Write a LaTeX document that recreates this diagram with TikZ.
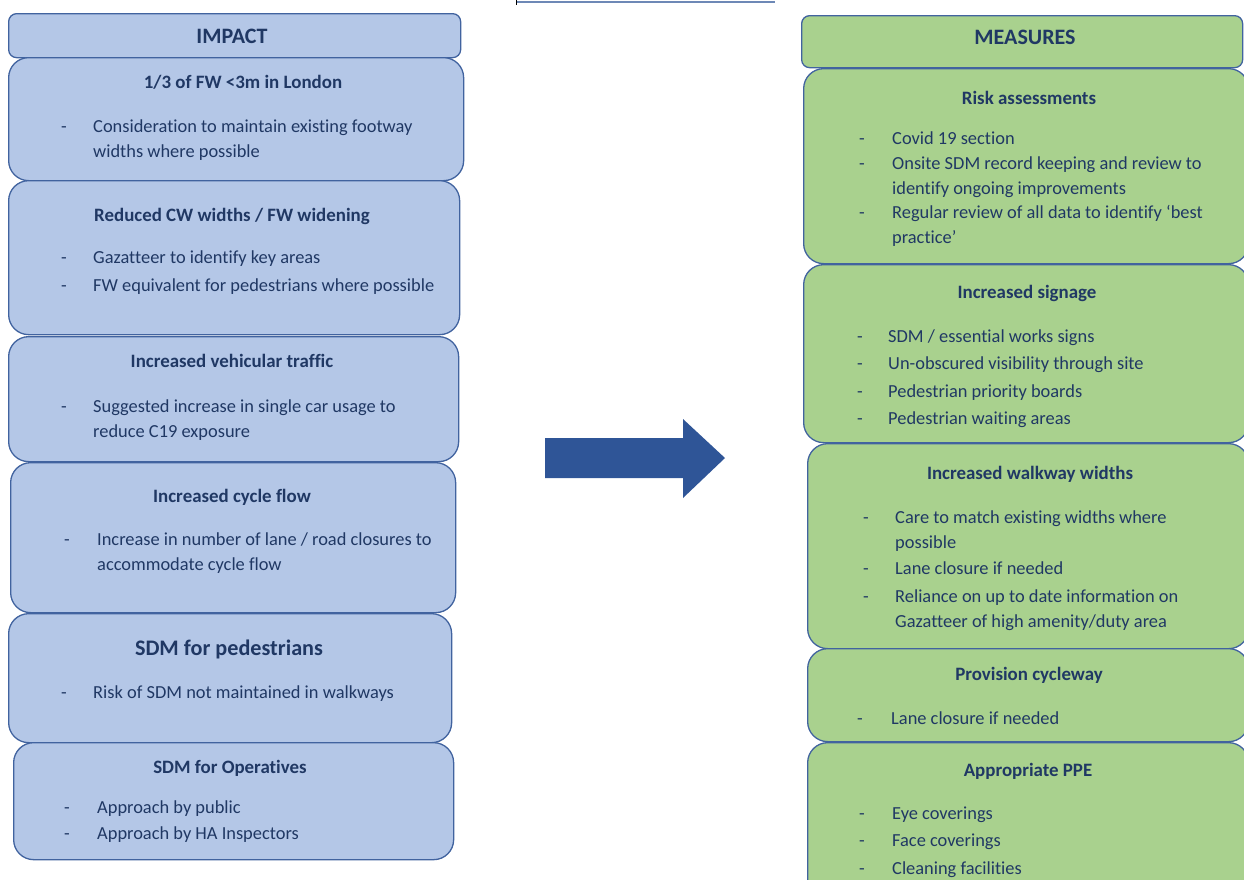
\documentclass[tikz,border=0pt]{standalone}
\usepackage{fontspec}
\setmainfont{Carlito}[Ligatures=NoCommon]
\definecolor{bfill}{HTML}{B4C7E7}
\definecolor{gfill}{HTML}{A9D18E}
\definecolor{edge}{HTML}{41639F}
\definecolor{txt}{HTML}{203864}
\definecolor{arr}{HTML}{2F5597}
\begin{document}
\begin{tikzpicture}[x=1pt,y=-1pt,
  bx/.style={draw=edge, line width=1.3pt, rounded corners=20pt, anchor=north west, inner sep=0pt},
  hd/.style={draw=edge, line width=1.3pt, rounded corners=8pt, anchor=north west, inner sep=0pt},
  head/.style={font=\fontsize{18.9}{20}\selectfont\bfseries, text=txt, anchor=mid, yshift=-5pt},
  bighead/.style={font=\fontsize{22.2}{24}\selectfont\bfseries, text=txt, anchor=mid, yshift=-5pt},
  title/.style={font=\fontsize{22}{24}\selectfont\bfseries, text=txt, anchor=mid, yshift=-5pt},
  it/.style={font=\fontsize{18.4}{20}\selectfont, text=txt, anchor=mid west, inner sep=0pt, yshift=-5pt},
  bul/.style={font=\fontsize{18.4}{20}\selectfont, text=txt, anchor=mid west, inner sep=0pt, yshift=-5pt}
]
\useasboundingbox (0,0) rectangle (1244,879);
% top line
\coordinate (la) at (516,2);
\coordinate (lb) at (775,2);
\draw[arr!70, line width=1.5pt] (la) -- (lb);
\coordinate (ta) at (516,0);
\coordinate (tb) at (516,5);
\draw[black, line width=1pt] (ta) -- (tb);

% ---------- left column ----------
\node[hd, fill=bfill, minimum width=452pt, minimum height=44pt] (impact) at (8,13) {};
\node[title] (timpact) at (232,36) {IMPACT};

\node[bx, fill=bfill, minimum width=455pt, minimum height=123pt] (l1) at (8,57) {};
\node[head] (l1h) at (243,81) {1/3 of FW <3m in London};
\node[bul] (l1d1) at (61,125) {-};
\node[it] (l1t1) at (93,125) {Consideration to maintain existing footway};
\node[it] (l1t2) at (93,150) {widths where possible};

\node[bx, fill=bfill, minimum width=451pt, minimum height=154pt] (l2) at (8,180) {};
\node[head] (l2h) at (232,214) {Reduced CW widths / FW widening};
\node[bul] (l2d1) at (61,256) {-};
\node[it] (l2t1) at (93,256) {Gazatteer to identify key areas};
\node[bul] (l2d2) at (61,284) {-};
\node[it] (l2t2) at (93,284) {FW equivalent for pedestrians where possible};

\node[bx, fill=bfill, minimum width=450pt, minimum height=125pt] (l3) at (8,336) {};
\node[head] (l3h) at (232,360) {Increased vehicular traffic};
\node[bul] (l3d1) at (61,405) {-};
\node[it] (l3t1) at (93,405) {Suggested increase in single car usage to};
\node[it] (l3t2) at (93,430) {reduce C19 exposure};

\node[bx, fill=bfill, minimum width=445pt, minimum height=150pt] (l4) at (10,462) {};
\node[head] (l4h) at (232,495) {Increased cycle flow};
\node[bul] (l4d1) at (64,538) {-};
\node[it] (l4t1) at (97,538) {Increase in number of lane / road closures to};
\node[it] (l4t2) at (97,563) {accommodate cycle flow};

\node[bx, fill=bfill, minimum width=443pt, minimum height=129pt] (l5) at (8,613) {};
\node[bighead] (l5h) at (229,648) {SDM for pedestrians};
\node[bul] (l5d1) at (61,691) {-};
\node[it] (l5t1) at (93,691) {Risk of SDM not maintained in walkways};

\node[bx, fill=bfill, minimum width=440pt, minimum height=117pt] (l6) at (13,742) {};
\node[head] (l6h) at (230,766) {SDM for Operatives};
\node[bul] (l6d1) at (64,806) {-};
\node[it] (l6t1) at (97,806) {Approach by public};
\node[bul] (l6d2) at (64,832) {-};
\node[it] (l6t2) at (97,832) {Approach by HA Inspectors};

% ---------- arrow ----------
\node[coordinate] (ar) at (545,458) {};
\fill[arr] (545,438) -- (683,438) -- (683,419) -- (725,458) -- (683,498) -- (683,478) -- (545,478) -- cycle;

% ---------- right column ----------
\node[hd, fill=gfill, minimum width=441pt, minimum height=52pt] (measures) at (801,15) {};
\node[title] (tmeasures) at (1025,37) {MEASURES};

\node[bx, fill=gfill, minimum width=445pt, minimum height=195pt] (r1) at (803,68) {};
\node[head] (r1h) at (1029,97) {Risk assessments};
\node[bul] (r1d1) at (859,137) {-};
\node[it] (r1t1) at (892,137) {Covid 19 section};
\node[bul] (r1d2) at (859,162) {-};
\node[it] (r1t2) at (892,162) {Onsite SDM record keeping and review to};
\node[it] (r1t3) at (892,187) {identify ongoing improvements};
\node[bul] (r1d3) at (859,211) {-};
\node[it] (r1t4) at (892,211) {Regular review of all data to identify ‘best};
\node[it] (r1t5) at (892,236) {practice’};

\node[bx, fill=gfill, minimum width=445pt, minimum height=178pt] (r2) at (803,264) {};
\node[head] (r2h) at (1027,291) {Increased signage};
\node[bul] (r2d1) at (857,335) {-};
\node[it] (r2t1) at (888,335) {SDM / essential works signs};
\node[bul] (r2d2) at (857,362) {-};
\node[it] (r2t2) at (888,362) {Un-obscured visibility through site};
\node[bul] (r2d3) at (857,390) {-};
\node[it] (r2t3) at (888,390) {Pedestrian priority boards};
\node[bul] (r2d4) at (857,417) {-};
\node[it] (r2t4) at (888,417) {Pedestrian waiting areas};

\node[bx, fill=gfill, minimum width=441pt, minimum height=205pt] (r3) at (807,443) {};
\node[head] (r3h) at (1030,472) {Increased walkway widths};
\node[bul] (r3d1) at (863,516) {-};
\node[it] (r3t1) at (895,516) {Care to match existing widths where};
\node[it] (r3t2) at (895,541) {possible};
\node[bul] (r3d2) at (863,567) {-};
\node[it] (r3t3) at (895,567) {Lane closure if needed};
\node[bul] (r3d3) at (863,595) {-};
\node[it] (r3t4) at (895,595) {Reliance on up to date information on};
\node[it] (r3t5) at (895,620) {Gazatteer of high amenity/duty area};

\node[bx, fill=gfill, minimum width=441pt, minimum height=93pt] (r4) at (807,648) {};
\node[head] (r4h) at (1029,673) {Provision cycleway};
\node[bul] (r4d1) at (857,717) {-};
\node[it] (r4t1) at (891,717) {Lane closure if needed};

\node[bx, fill=gfill, minimum width=441pt, minimum height=160pt] (r5) at (807,742) {};
\node[head] (r5h) at (1028,769) {Appropriate PPE};
\node[bul] (r5d1) at (859,812) {-};
\node[it] (r5t1) at (892,812) {Eye coverings};
\node[bul] (r5d2) at (859,839) {-};
\node[it] (r5t2) at (892,839) {Face coverings};
\node[bul] (r5d3) at (859,867) {-};
\node[it] (r5t3) at (892,867) {Cleaning facilities};
\end{tikzpicture}
\end{document}
